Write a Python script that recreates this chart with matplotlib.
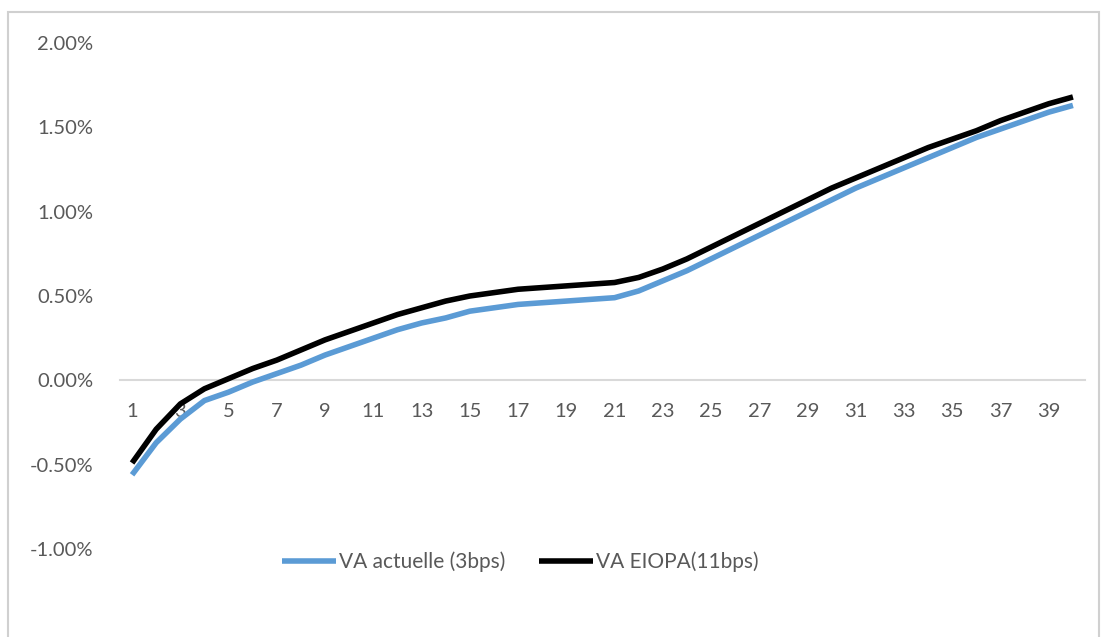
import matplotlib
matplotlib.use("Agg")
import matplotlib.pyplot as plt
from matplotlib.patches import Rectangle
from matplotlib.ticker import FuncFormatter

maturities = list(range(1, 41))
va_actuelle = [-0.56, -0.37, -0.23, -0.12, -0.07, -0.01, 0.04, 0.09, 0.15, 0.20,
               0.25, 0.30, 0.34, 0.37, 0.41, 0.43, 0.45, 0.46, 0.47, 0.48,
               0.49, 0.53, 0.59, 0.65, 0.72, 0.79, 0.86, 0.93, 1.00, 1.07,
               1.14, 1.20, 1.26, 1.32, 1.38, 1.44, 1.49, 1.54, 1.59, 1.63]
va_eiopa = [-0.49, -0.29, -0.14, -0.05, 0.01, 0.07, 0.12, 0.18, 0.24, 0.29,
            0.34, 0.39, 0.43, 0.47, 0.50, 0.52, 0.54, 0.55, 0.56, 0.57,
            0.58, 0.61, 0.66, 0.72, 0.79, 0.86, 0.93, 1.00, 1.07, 1.14,
            1.20, 1.26, 1.32, 1.38, 1.43, 1.48, 1.54, 1.59, 1.64, 1.68]
series_labels = ["VA actuelle (3bps)", "VA EIOPA(11bps)"]
x_tick_labels = list(range(1, 40, 2))
y_ticks = [-1.0, -0.5, 0.0, 0.5, 1.0, 1.5, 2.0]

plt.rcParams['font.family'] = ['Lato', 'DejaVu Sans']
W, H = 1103, 637
fig = plt.figure(figsize=(W / 100, H / 100), dpi=100)
fig.patch.set_facecolor('white')

# outer chart frame
fig.patches.append(Rectangle((8 / W, -0.01), (1099 - 8) / W, 1 - 12 / H + 0.01,
                             transform=fig.transFigure, fill=False,
                             edgecolor='#d0d0d0', linewidth=1.5))

ax = fig.add_axes([120 / W, 1 - 549 / H, (1085 - 120) / W, (549 - 43) / H])
ax.plot(maturities, va_actuelle, color='#5B9BD5', linewidth=4,
        label=series_labels[0], solid_capstyle='butt', solid_joinstyle='round')
ax.plot(maturities, va_eiopa, color='black', linewidth=4,
        label=series_labels[1], solid_capstyle='butt', solid_joinstyle='round')

ax.set_xlim(0.5, 40.5)
ax.set_ylim(-1.0, 2.0)
ax.set_yticks(y_ticks)
ax.yaxis.set_major_formatter(FuncFormatter(lambda v, p: f"{v:.2f}%"))
ax.set_xticks(x_tick_labels)
ax.set_xticklabels([str(v) for v in x_tick_labels])

for s in ['top', 'right', 'left']:
    ax.spines[s].set_visible(False)
ax.spines['bottom'].set_position(('data', 0))
ax.spines['bottom'].set_color('#d9d9d9')
ax.spines['bottom'].set_linewidth(1.5)
ax.spines['bottom'].set_zorder(0)

ax.tick_params(axis='both', length=0, labelsize=14.5, labelcolor='#595959')
ax.tick_params(axis='y', pad=19)
ax.tick_params(axis='x', pad=16)

leg = fig.legend(loc='center', bbox_to_anchor=(520 / W, 1 - 562 / H),
                 ncol=2, frameon=False, fontsize=15, handlelength=2.6,
                 handletextpad=0.15, columnspacing=1.6)
for t in leg.get_texts():
    t.set_color('#595959')

fig.savefig('out.png', dpi=100, facecolor='white')
